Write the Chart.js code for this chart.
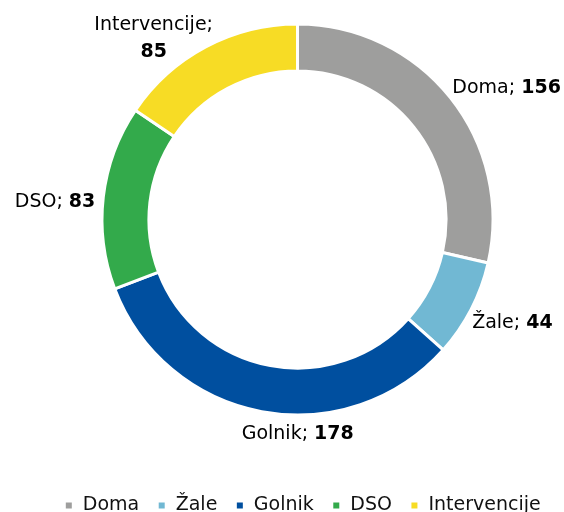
<!DOCTYPE html>
<html>
<head>
<meta charset="utf-8">
<script src="https://cdn.jsdelivr.net/npm/chart.js@4/dist/chart.umd.min.js"></script>
<style>
  html, body { margin: 0; padding: 0; background: #fff; }
  #wrap { width: 564px; height: 512px; }
</style>
</head>
<body>
<div id="wrap"><canvas id="ringChart"></canvas></div>
<script>
// Data
const categories = ['Doma', 'Žale', 'Golnik', 'DSO', 'Intervencije'];
const values = [156, 44, 178, 83, 85];
const colors = ['#9e9e9d', '#71b8d3', '#004f9f', '#33aa4b', '#f7dc25'];

const FONT = '"DejaVu Sans", Verdana, sans-serif';

// Keep the ring where it sits in the original, independent of the legend height
const ringArea = {
    id: 'ringArea',
    afterLayout(chart, args, opts) {
        const a = chart.chartArea;
        a.left = opts.cx - opts.size / 2;
        a.right = opts.cx + opts.size / 2;
        a.top = opts.cy - opts.size / 2;
        a.bottom = opts.cy + opts.size / 2;
        a.width = opts.size;
        a.height = opts.size;
    }
};

// Draws "Name; value" next to every slice, value in bold
const sliceLabels = {
    id: 'sliceLabels',
    afterDatasetsDraw(chart, args, opts) {
        const ctx = chart.ctx;
        const meta = chart.getDatasetMeta(0);
        ctx.save();
        ctx.fillStyle = '#000';
        ctx.textBaseline = 'middle';
        meta.data.forEach((arc, i) => {
            const p = arc.getProps(['x', 'y', 'startAngle', 'endAngle', 'outerRadius'], true);
            const mid = (p.startAngle + p.endAngle) / 2;
            const nudge = opts.nudge[i] || [0, 0];
            const ax = p.x + Math.cos(mid) * p.outerRadius + nudge[0];
            const ay = p.y + Math.sin(mid) * p.outerRadius + nudge[1];
            const name = chart.data.labels[i] + '; ';
            const val = String(chart.data.datasets[0].data[i]);
            const normal = opts.size + 'px ' + FONT;
            const bold = 'bold ' + opts.size + 'px ' + FONT;

            if (name.length > 12) {
                // long name: two centered lines
                ctx.textAlign = 'center';
                ctx.font = normal;
                ctx.fillText(name.trim(), ax, ay);
                ctx.font = bold;
                ctx.fillText(val, ax, ay + opts.size * 1.45);
                return;
            }
            ctx.font = normal;
            const w1 = ctx.measureText(name).width;
            ctx.font = bold;
            const w2 = ctx.measureText(val).width;
            const total = w1 + w2;
            const align = opts.align[i];
            let x0 = ax;
            if (align === 'center') x0 = ax - total / 2;
            if (align === 'right') x0 = ax - total;
            ctx.textAlign = 'left';
            ctx.font = normal;
            ctx.fillText(name, x0, ay);
            ctx.font = bold;
            ctx.fillText(val, x0 + w1, ay);
        });
        ctx.restore();
    }
};

const ctx = document.getElementById('ringChart').getContext('2d');

const data = {
    labels: categories,
    datasets: [{
        data: values,
        backgroundColor: colors,
        borderColor: '#ffffff',
        borderWidth: 3,
        hoverOffset: 0
    }]
};

const config = {
    type: 'doughnut',
    data: data,
    plugins: [ringArea, sliceLabels],
    options: {
        responsive: true,
        maintainAspectRatio: false,
        animation: false,
        cutout: '76%',
        layout: {
            padding: { top: 0, left: 41, right: 0, bottom: -13 }
        },
        plugins: {
            tooltip: { enabled: false },
            legend: {
                display: true,
                position: 'bottom',
                labels: {
                    boxWidth: 9,
                    boxHeight: 9,
                    padding: 18,
                    color: '#111',
                    font: { family: FONT, size: 19 }
                }
            },
            ringArea: { cx: 297.5, cy: 219.5, size: 394 },
            sliceLabels: {
                size: 19,
                align: ['left', 'left', 'center', 'right', 'center'],
                nudge: [[2, -10], [1, 14], [36, 22], [-8, 5], [-52, -22]]
            }
        }
    }
};

const ringChart = new Chart(ctx, config);
</script>
</body>
</html>
